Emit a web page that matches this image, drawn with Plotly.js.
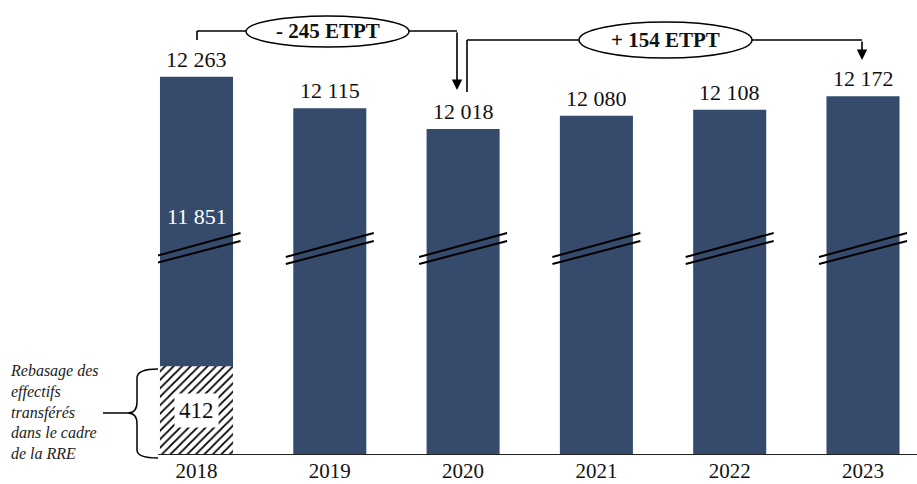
<!DOCTYPE html>
<html>
<head>
<meta charset="utf-8">
<script src="https://cdn.plot.ly/plotly-3.0.1.min.js"></script>
<style>html,body{margin:0;padding:0;background:#fff;}#chart{width:917px;height:484px;}</style>
</head>
<body>
<div id="chart"></div>
<script>
// ---- data ----
const years = ['2018', '2019', '2020', '2021', '2022', '2023'];
const totals = [12263, 12115, 12018, 12080, 12108, 12172];
const totalLabels = ['12 263', '12 115', '12 018', '12 080', '12 108', '12 172'];
const rebasedYears = ['2018'];
const rebasedValues = [412];
const rebasedLabels = ['412'];
const upperLabels = ['11 851'];
const changeLabels = ['<b>- 245 ETPT</b>', '<b>+ 154 ETPT</b>'];
const noteText = 'Rebasage des<br>effectifs<br>transférés<br>dans le cadre<br>de la RRE';

// ---- layout constants (broken axis) ----
const AXIS_MIN = 10492, AXIS_MAX = 12623.5;
const W = 917, H = 484, L = 158, R = 0, T = 0, B = 30;
const PW = W - L - R, PH = H - T - B;
const px = v => (v - L) / PW;           // pixel -> paper x
const py = v => (H - B - v) / PH;       // pixel -> paper y
const FONT = 'Liberation Serif';
const BAR = '#364a6b';

const traces = [
  {type: 'bar', x: years, y: totals, marker: {color: BAR, line: {width: 0}},
   hoverinfo: 'skip', showlegend: false},
  {type: 'bar', x: rebasedYears, y: rebasedValues, base: rebasedValues.map(() => AXIS_MIN),
   marker: {color: 'white', line: {width: 0},
            pattern: {shape: '/', fgcolor: 'black', bgcolor: 'white', size: 6, solidity: 0.3}},
   hoverinfo: 'skip', showlegend: false}
];

const idx = yr => years.indexOf(yr);
const annotations = [];
years.forEach((yr, i) => annotations.push({
  x: i, y: totals[i], xref: 'x', yref: 'y', text: totalLabels[i], showarrow: false,
  xanchor: 'center', yanchor: 'bottom', yshift: 3, font: {family: FONT, size: 22, color: '#111'}
}));
annotations.push({x: idx(rebasedYears[0]), y: AXIS_MIN + rebasedValues[0] / 2, xref: 'x', yref: 'y',
  text: rebasedLabels[0], showarrow: false, bgcolor: 'white', borderpad: 4,
  xanchor: 'center', yanchor: 'middle', font: {family: FONT, size: 23, color: '#111'}});
annotations.push({x: idx(rebasedYears[0]), y: py(216), xref: 'x', yref: 'paper', text: upperLabels[0],
  showarrow: false, xanchor: 'center', yanchor: 'middle', font: {family: FONT, size: 22, color: 'white'}});
annotations.push({x: px(328), y: py(31), xref: 'paper', yref: 'paper', text: changeLabels[0],
  showarrow: false, xanchor: 'center', yanchor: 'middle', font: {family: FONT, size: 21, color: '#111'}});
annotations.push({x: px(665), y: py(40), xref: 'paper', yref: 'paper', text: changeLabels[1],
  showarrow: false, xanchor: 'center', yanchor: 'middle', font: {family: FONT, size: 21, color: '#111'}});
annotations.push({x: px(8), y: py(412), xref: 'paper', yref: 'paper', text: '<i>' + noteText + '</i>',
  showarrow: false, xanchor: 'left', yanchor: 'middle', align: 'left',
  font: {family: FONT, size: 16, color: '#222'}});
// arrows
annotations.push({x: px(457), y: py(90), xref: 'paper', yref: 'paper', ax: 0, ay: -59,
  showarrow: true, arrowhead: 2, arrowsize: 1.3, arrowwidth: 1.6, arrowcolor: 'black', text: ''});
annotations.push({x: px(862), y: py(60), xref: 'paper', yref: 'paper', ax: 0, ay: -20,
  showarrow: true, arrowhead: 2, arrowsize: 1.3, arrowwidth: 1.6, arrowcolor: 'black', text: ''});

const ln = (x0, y0, x1, y1, w) => ({type: 'line', xref: 'paper', yref: 'paper',
  x0: px(x0), y0: py(y0), x1: px(x1), y1: py(y1), line: {color: 'black', width: w || 1.6}});

const shapes = [
  // connector 1
  ln(197, 40, 197, 31), ln(197, 31, 457, 31),
  // connector 2
  ln(467, 92, 467, 40), ln(467, 40, 862, 40),
  // ellipses
  {type: 'circle', xref: 'paper', yref: 'paper', x0: px(246), x1: px(409), y0: py(47), y1: py(16),
   fillcolor: 'white', line: {color: 'black', width: 1.5}},
  {type: 'circle', xref: 'paper', yref: 'paper', x0: px(579), x1: px(752), y0: py(58), y1: py(22),
   fillcolor: 'white', line: {color: 'black', width: 1.5}},
  // brace
  {type: 'path', xref: 'paper', yref: 'paper', line: {color: 'black', width: 1.5},
   path: `M ${px(158)},${py(369)} Q ${px(137)},${py(369)} ${px(137)},${py(378)} L ${px(137)},${py(402)} ` +
         `Q ${px(137)},${py(413)} ${px(128)},${py(413)} Q ${px(137)},${py(413)} ${px(137)},${py(424)} ` +
         `L ${px(137)},${py(450)} Q ${px(137)},${py(458)} ${px(158)},${py(458)}`},
  ln(103, 413, 128, 413, 1.5)
];
// axis-break marks on each bar
years.forEach((yr, i) => {
  [[257, 233], [264, 241]].forEach(([ya, yb]) => shapes.push({
    type: 'line', xref: 'x', yref: 'paper', x0: i - 0.33, x1: i + 0.33,
    y0: py(ya), y1: py(yb), line: {color: 'black', width: 2}
  }));
});

const cStart = -(196.5 - L) / 133.3;
const layout = {
  width: W, height: H, margin: {l: L, r: R, t: T, b: B},
  paper_bgcolor: 'white', plot_bgcolor: 'white',
  barmode: 'overlay', bargap: 0.452,
  xaxis: {type: 'category', range: [cStart, cStart + PW / 133.3], showgrid: false, zeroline: false,
          showline: true, linecolor: '#222', linewidth: 1, ticks: '', ticklabelstandoff: -2,
          tickfont: {family: FONT, size: 21, color: '#111'}, fixedrange: true},
  yaxis: {range: [AXIS_MIN, AXIS_MAX], visible: false, showgrid: false, zeroline: false, fixedrange: true},
  annotations: annotations, shapes: shapes, showlegend: false
};
Plotly.newPlot('chart', traces, layout, {displayModeBar: false, staticPlot: true});
</script>
</body>
</html>
